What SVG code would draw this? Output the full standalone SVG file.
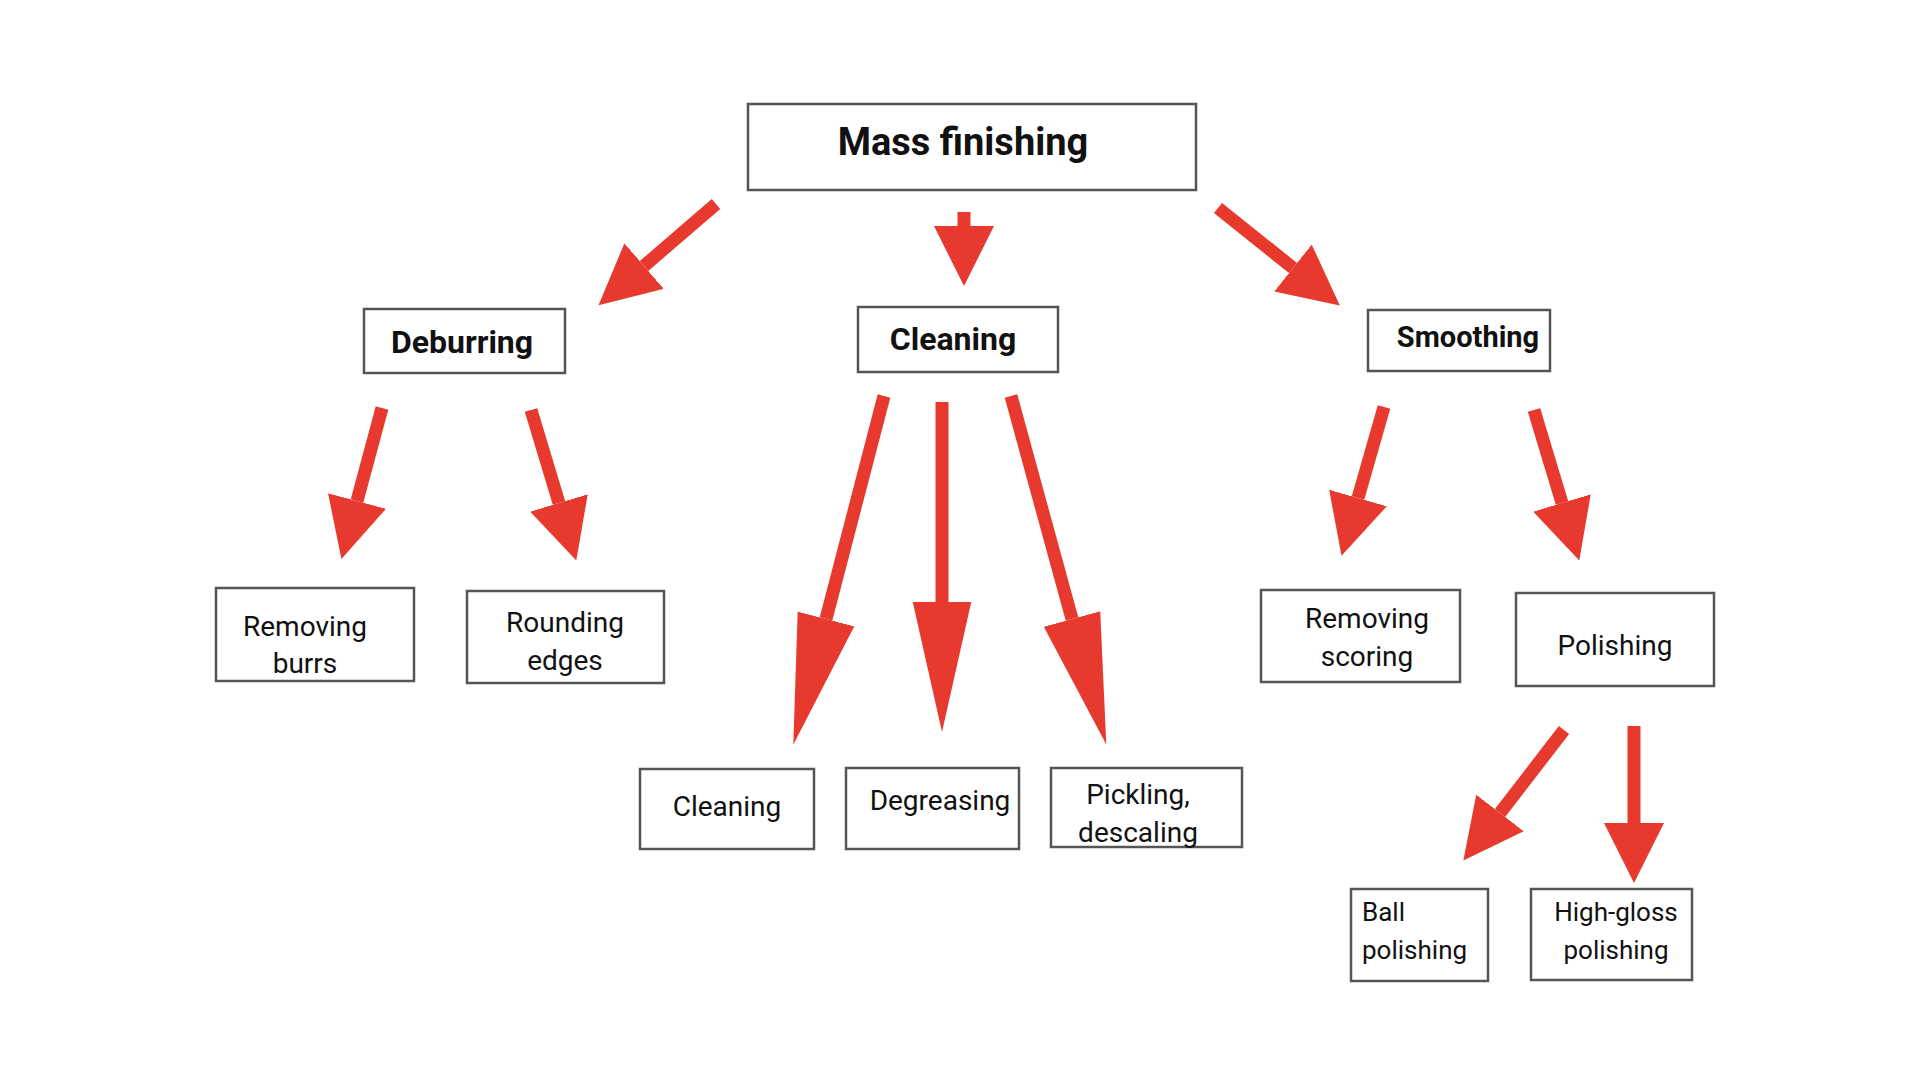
<svg xmlns="http://www.w3.org/2000/svg" width="1920" height="1080" viewBox="0 0 1920 1080">
<style>
.box{fill:#fff;stroke:#555;stroke-width:2.5}
.t{font-family:Roboto,"Liberation Sans",sans-serif;font-size:28px;fill:#111;text-anchor:middle}
.b{font-weight:bold;font-size:32px}
.arr{stroke:#e8392f;stroke-width:13;fill:none}
</style>
<defs>
<marker id="h" markerUnits="userSpaceOnUse" markerWidth="60" markerHeight="60" refX="0" refY="25" orient="auto" viewBox="0 0 50 50"><path d="M0,0 L50,25 L0,50 z" fill="#e8392f"/></marker>
<marker id="H" markerUnits="userSpaceOnUse" markerWidth="130" markerHeight="60" refX="0" refY="27" orient="auto" viewBox="0 0 120 54"><path d="M0,0 L120,27 L0,54 z" fill="#e8392f"/></marker>
</defs>
<rect width="1920" height="1080" fill="#fff"/>
<g id="connectors">
<line class="arr" x1="716" y1="204" x2="644" y2="266" marker-end="url(#h)"/>
<line class="arr" x1="964" y1="212" x2="964" y2="226" marker-end="url(#h)"/>
<line class="arr" x1="1218" y1="208" x2="1293" y2="268" marker-end="url(#h)"/>
<line class="arr" x1="382" y1="408" x2="357" y2="501" marker-end="url(#h)"/>
<line class="arr" x1="531" y1="410" x2="559" y2="503" marker-end="url(#h)"/>
<line class="arr" x1="884" y1="396" x2="826" y2="619" marker-end="url(#H)"/>
<line class="arr" x1="942" y1="402" x2="942" y2="602" marker-end="url(#H)"/>
<line class="arr" x1="1011" y1="396" x2="1072" y2="619" marker-end="url(#H)"/>
<line class="arr" x1="1384" y1="407" x2="1358" y2="498" marker-end="url(#h)"/>
<line class="arr" x1="1534" y1="410" x2="1562" y2="503" marker-end="url(#h)"/>
<line class="arr" x1="1564" y1="730" x2="1500" y2="813" marker-end="url(#h)"/>
<line class="arr" x1="1634" y1="726" x2="1634" y2="823" marker-end="url(#h)"/>
</g>
<g id="mass"><rect class="box" x="748" y="104" width="448" height="86"/><text class="t b" x="963" y="155" style="font-size:38px">Mass finishing</text></g>
<g id="deburring"><rect class="box" x="364" y="309" width="201" height="64"/><text class="t b" x="462" y="353">Deburring</text></g>
<g id="cleaning"><rect class="box" x="858" y="307" width="200" height="65"/><text class="t b" x="953" y="350">Cleaning</text></g>
<g id="smoothing"><rect class="box" x="1368" y="310" width="182" height="61"/><text class="t b" x="1468" y="347" style="font-size:29px">Smoothing</text></g>
<g id="burrs"><rect class="box" x="216" y="588" width="198" height="93"/><text class="t" x="305" y="636">Removing</text><text class="t" x="305" y="673">burrs</text></g>
<g id="edges"><rect class="box" x="467" y="591" width="197" height="92"/><text class="t" x="565" y="632">Rounding</text><text class="t" x="565" y="670">edges</text></g>
<g id="cleaning2"><rect class="box" x="640" y="769" width="174" height="80"/><text class="t" x="727" y="816">Cleaning</text></g>
<g id="degreasing"><rect class="box" x="846" y="768" width="173" height="81"/><text class="t" x="940" y="810">Degreasing</text></g>
<g id="pickling"><rect class="box" x="1051" y="768" width="191" height="79"/><text class="t" x="1138" y="804">Pickling,</text><text class="t" x="1138" y="842">descaling</text></g>
<g id="scoring"><rect class="box" x="1261" y="590" width="199" height="92"/><text class="t" x="1367" y="628">Removing</text><text class="t" x="1367" y="666">scoring</text></g>
<g id="polishing"><rect class="box" x="1516" y="593" width="198" height="93"/><text class="t" x="1615" y="655">Polishing</text></g>
<g id="ball"><rect class="box" x="1351" y="889" width="137" height="92"/><text class="t" x="1362" y="921" style="text-anchor:start;font-size:26px">Ball</text><text class="t" x="1362" y="959" style="text-anchor:start;font-size:26px">polishing</text></g>
<g id="highgloss"><rect class="box" x="1531" y="889" width="161" height="91"/><text class="t" x="1616" y="921" style="font-size:26px">High-gloss</text><text class="t" x="1616" y="959" style="font-size:26px">polishing</text></g>
</svg>
